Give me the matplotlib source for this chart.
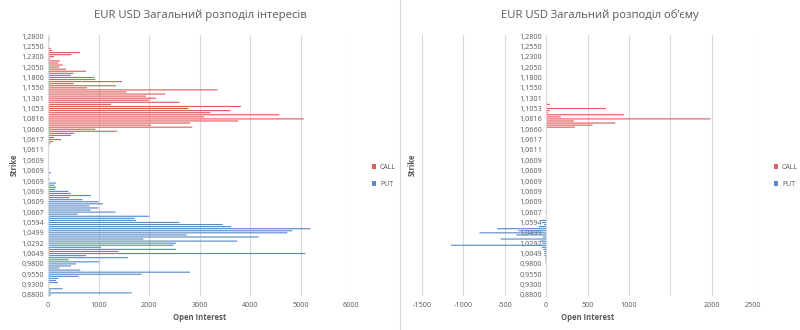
import numpy as np
import matplotlib
matplotlib.use("Agg")
import matplotlib.pyplot as plt
from matplotlib.patches import Patch
from matplotlib.lines import Line2D

plt.rcParams['font.family'] = ['Open Sans', 'DejaVu Sans']

# ---- data ----
strike_labels = ['1,2800', '1,2550', '1,2300', '1,2050', '1,1800', '1,1550', '1,1301',
                 '1,1053', '1,0816', '1,0660', '1,0617', '1,0611', '1,0609', '1,0609',
                 '1,0609', '1,0609', '1,0609', '1,0607', '1,0594', '1,0499', '1,0292',
                 '1,0049', '0,9800', '0,9550', '0,9300', '0,8800']
label_step = 5

# open interest, rows from top to bottom (calls occupy upper rows, puts lower rows)
call_oi = [13, 33, 33, 20, 13, 26, 53, 79, 634, 462,
           125, 40, 238, 205, 290, 224, 356, 752, 502, 455,
           917, 937, 1465, 508, 1347, 772, 3353, 1558, 2317, 1941,
           2139, 2007, 2601, 1248, 3822, 2779, 3611, 3215, 4581, 3096,
           5063, 3762, 2812, 2040, 2858, 937, 1366, 521, 455, 125,
           257, 99, 46, 0, 20, 13, 13, 10, 8, 8,
           10, 5]
put_oi = [0, 0, 0, 0, 60, 13, 0, 33, 8, 158,
          125, 158, 145, 403, 455, 851, 422, 686, 1003, 1089,
          818, 997, 845, 1333, 587, 2000, 1716, 1743, 2601, 3459,
          3624, 5195, 4838, 4739, 2746, 4172, 1888, 3749, 2535, 2488,
          1050, 2535, 1399, 5096, 752, 1584, 409, 1017, 554, 455,
          224, 640, 2812, 1855, 607, 205, 158, 198, 13, 0,
          290, 50, 1657, 60]

# volume, same rows
call_vol = [0, 0, 0, 0, 0, 0, 0, 0, 0, 0,
            0, 0, 0, 0, 0, 0, 0, 0, 0, 0,
            0, 0, 0, 0, 0, 0, 0, 0, 0, 0,
            0, 0, 0, 44, 0, 722, 44, 24, 940, 177,
            1984, 335, 835, 560, 347, 4, 12, 0, 0, 0,
            0, 0, 0, 0, 0, 0, 0, 0, 0, 0,
            0, 0]
put_vol = [0, 0, 0, 0, 0, 0, 0, 0, 0, 0,
           0, 0, 0, 0, 0, 0, 0, 0, 0, 0,
           0, 0, 0, 8, 0, 0, 0, 65, 50, 25,
           90, 593, 333, 805, 358, 40, 549, 73, 49, 1150,
           53, 33, 24, 24, 20, 10, 10, 8, 5, 0,
           0, 0, 0, 0, 0, 0, 0, 0, 0, 0,
           0, 0, 0, 0]

n_call = len(call_oi)
n_put = len(put_oi)
N = n_call + n_put

calls_oi_full = np.array(call_oi + [0] * n_put, dtype=float)
puts_oi_full = np.array([0] * n_call + put_oi, dtype=float)
calls_vol_full = np.array(call_vol + [0] * n_put, dtype=float)
puts_vol_full = -np.array([0] * n_call + put_vol, dtype=float)

RED = '#dc5f5b'
BLUE = '#5a8ac6'
GRID = '#d9d9d9'
TXT = '#595959'

fig = plt.figure(figsize=(8.0, 3.3), dpi=100)
W, H = 800, 330

def ax_rect(x0, x1, y0, y1):
    return [x0 / W, 1 - y1 / H, (x1 - x0) / W, (y1 - y0) / H]

ypos = np.arange(N)
ticks = np.arange(0, N, label_step)
BAR_H = 0.55

def style(ax):
    ax.set_ylim(N - 0.5, -0.5)
    ax.set_yticks(ticks)
    ax.set_yticklabels(strike_labels)
    ax.tick_params(axis='both', length=0, labelsize=5.2, colors=TXT)
    ax.tick_params(axis='y', pad=3)
    ax.tick_params(axis='x', pad=4)
    for s in ['top', 'right', 'bottom']:
        ax.spines[s].set_visible(False)
    ax.spines['left'].set_color(GRID)
    ax.spines['left'].set_linewidth(0.8)
    ax.grid(axis='x', color=GRID, linewidth=0.8)
    ax.set_axisbelow(True)
    ax.set_xlabel('Open Interest', fontsize=5.5, color=TXT, fontweight='bold', labelpad=3)

def bars(ax, vals, color):
    cont = ax.barh(ypos, vals, height=BAR_H, color=color, linewidth=0)
    for p in cont.patches:
        p.set_snap(False)

# ---- left chart: open interest ----
ax1 = fig.add_axes(ax_rect(48, 351, 35, 296))
bars(ax1, calls_oi_full, RED)
bars(ax1, puts_oi_full, BLUE)
ax1.set_xlim(0, 6000)
ax1.set_xticks(np.arange(0, 6001, 1000))
ax1.set_xticklabels([str(v) for v in range(0, 6001, 1000)])
style(ax1)
fig.text(200 / W, 1 - 15 / H, 'EUR USD Загальний розподіл інтересів', ha='center', va='center',
         fontsize=8.1, color=TXT)
fig.text(14 / W, 1 - 165 / H, 'Strike', rotation=90, ha='center', va='center',
         fontsize=5.5, color=TXT, fontweight='bold')

# ---- right chart: volume ----
ax2 = fig.add_axes(ax_rect(422, 753, 35, 296))
bars(ax2, calls_vol_full, RED)
bars(ax2, puts_vol_full, BLUE)
ax2.set_xlim(-1500, 2500)
xt = np.arange(-1500, 2501, 500)
ax2.set_xticks(xt)
ax2.set_xticklabels(['' if v == 1500 else str(v) for v in xt])
style(ax2)
ax2.spines['left'].set_position(('data', 0))
fig.text(600 / W, 1 - 15 / H, 'EUR USD Загальний розподіл об’єму', ha='center', va='center',
         fontsize=8.1, color=TXT)
fig.text(412 / W, 1 - 165 / H, 'Strike', rotation=90, ha='center', va='center',
         fontsize=5.5, color=TXT, fontweight='bold')

# ---- legends ----
handles = [Patch(facecolor=RED, edgecolor='none', label='CALL'),
           Patch(facecolor=BLUE, edgecolor='none', label='PUT')]
for xl in (366, 768):
    fig.legend(handles=handles, loc='center left', bbox_to_anchor=(xl / W, 1 - 176 / H),
               frameon=False, fontsize=5, handlelength=0.6, handleheight=0.6,
               handletextpad=0.5, labelspacing=1.4, labelcolor=TXT)

# separator between the two charts
fig.add_artist(Line2D([400 / W, 400 / W], [0, 1], color=GRID, linewidth=0.8))

fig.savefig('out.png', dpi=100, facecolor='white')
